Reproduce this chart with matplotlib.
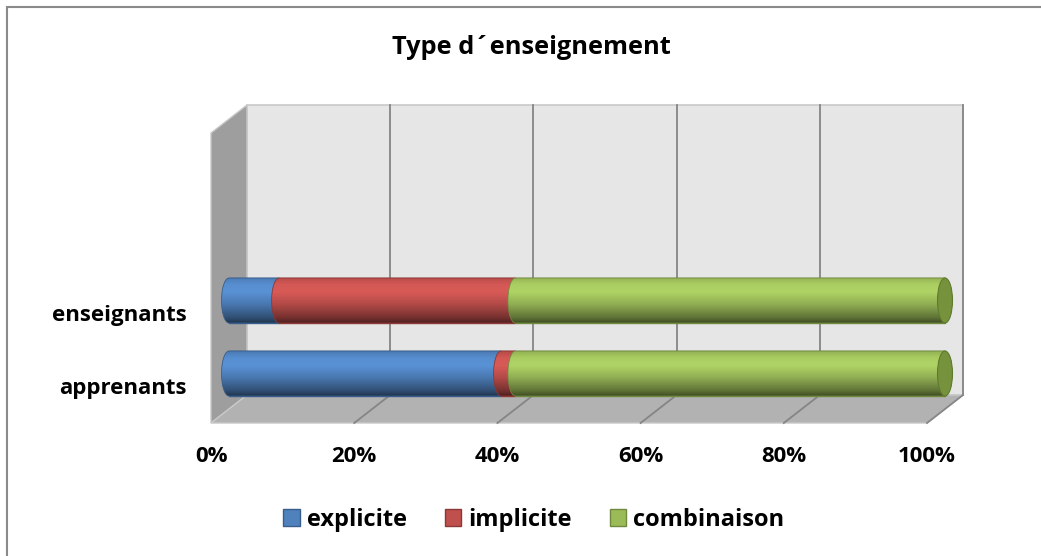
import numpy as np
import matplotlib.pyplot as plt
import matplotlib.transforms as mtransforms
from matplotlib.patches import Polygon, Ellipse, Rectangle
from matplotlib.colors import to_rgb

# data
categories = ['apprenants', 'enseignants']
series = ['explicite', 'implicite', 'combinaison']
explicite = [38, 7]
implicite = [2, 33]
combinaison = [60, 60]
xticks = [0, 20, 40, 60, 80, 100]
xtick_labels = ['0%', '20%', '40%', '60%', '80%', '100%']
title = 'Type d\u00b4enseignement'

colors = ['#4f81bd', '#c0504d', '#9bbb59']
edges = ['#385d8a', '#8c3836', '#71893f']
cap_color = '#76923c'

plt.rcParams['font.family'] = ['Open Sans', 'DejaVu Sans']
plt.rcParams['font.weight'] = 'bold'

W, H = 1041, 556
fig = plt.figure(figsize=(W / 100, H / 100), dpi=100)
ax = fig.add_axes([0, 0, 1, 1])
ax.axis('off')

# pixel -> data mapping for the plane where the bars sit
PPX, X0PX = 7.16, 229.0
PPY, Y0PX = 73.0, 373.5
def dx(q): return (q - X0PX) / PPX
def dy(p): return (Y0PX - p) / PPY
ax.set_xlim(dx(0), dx(W))
ax.set_ylim(dy(H), dy(0))

DX, DY = 18 / PPX, 14 / PPY          # half depth of the 3d box
top_b, bot_b = dy(105), dy(395)      # back wall top / bottom
top_f, bot_f = top_b - 2 * DY, bot_b - 2 * DY

# walls and floor
ax.add_patch(Polygon([(0 + DX, bot_b), (100 + DX, bot_b), (100 + DX, top_b), (0 + DX, top_b)],
                     fc='#e6e6e6', ec='#c8c8c8', lw=1.2, zorder=0))
ax.add_patch(Polygon([(0 - DX, top_f), (0 + DX, top_b), (0 + DX, bot_b), (0 - DX, bot_f)],
                     fc='#9e9e9e', ec='#c8c8c8', lw=1.0, zorder=0))
ax.add_patch(Polygon([(0 - DX, bot_f), (100 - DX, bot_f), (100 + DX, bot_b), (0 + DX, bot_b)],
                     fc='#b2b2b2', ec='#c8c8c8', lw=1.0, zorder=0))
for v in xticks[1:]:
    ax.plot([v + DX, v + DX], [bot_b, top_b], color='#858585', lw=1.3, zorder=1)
for v in xticks[1:]:
    ax.plot([v - DX, v + DX], [bot_f, bot_b], color='#858585', lw=1.3, zorder=1)

# bars
ypos = np.arange(len(categories))
bh = 45 / PPY
ew = 15 / PPX
lefts = np.zeros(len(categories))
conts = []
for k, (name, vals) in enumerate(zip(series, [explicite, implicite, combinaison])):
    c = ax.barh(ypos, vals, left=lefts, height=bh, color=colors[k], edgecolor=edges[k],
                lw=1.0, label=name, zorder=2 + k)
    conts.append(c)
    lefts = lefts + np.array(vals)

# cylinder shading: vertical brightness profile, bottom -> top
tt = np.linspace(0, 1, 60)
fac = np.interp(tt, [0, 0.12, 0.4, 0.68, 0.85, 1.0], [0.42, 0.62, 0.92, 1.13, 1.1, 0.95])
th = np.linspace(1.5 * np.pi, 0.5 * np.pi, 40)
for k, c in enumerate(conts):
    base = np.array(to_rgb(colors[k]))
    img = np.clip(fac[:, None] * base[None, :], 0, 1)[:, None, :]
    for r in c.patches:
        x0, y0, w, h = r.get_x(), r.get_y(), r.get_width(), r.get_height()
        if w <= 0:
            continue
        yc = y0 + h / 2
        arc = [(x0 + ew / 2 * np.cos(a), yc + h / 2 * np.sin(a)) for a in th]
        pts = [(x0, y0 + h), (x0 + w, y0 + h), (x0 + w, y0)] + arc
        clip = Polygon(pts, closed=True, fc='none', ec=edges[k], lw=0.6, zorder=10 + k + 0.5)
        ax.add_patch(clip)
        im = ax.imshow(img, extent=[x0 - ew / 2, x0 + w, y0, y0 + h], origin='lower',
                       aspect='auto', interpolation='bilinear', zorder=10 + k)
        im.set_clip_path(clip)

# end caps
for i in range(len(categories)):
    end = explicite[i] + implicite[i] + combinaison[i]
    ax.add_patch(Ellipse((end, ypos[i]), ew, bh, fc=cap_color, ec='#5f7a2c', lw=0.8, zorder=20))

# tick labels (front plane)
off_x = mtransforms.offset_copy(ax.transData, fig=fig, x=0, y=-34, units='dots')
for v, lab in zip(xticks, xtick_labels):
    ax.text(v - DX, bot_f, lab, transform=off_x, ha='center', va='center', fontsize=16)
off_y = mtransforms.offset_copy(ax.transData, fig=fig, x=-24, y=-1, units='dots')
for i, cat in enumerate(categories):
    ax.text(0 - DX, ypos[i] - DY, cat, transform=off_y, ha='right', va='center', fontsize=16)

fig.text(531 / W, 1 - 48 / H, title, ha='center', va='center', fontsize=18.3)

fig.legend(handles=conts, labels=series, loc='center', bbox_to_anchor=(534 / W, 1 - 520 / H),
           ncol=3, frameon=False, fontsize=17, handlelength=0.7, handleheight=0.7,
           handletextpad=0.3, columnspacing=1.6)

# chart border
fig.patches.append(Rectangle((7 / W, -0.05), 1.1, 1 - 7 / H + 0.05, transform=fig.transFigure,
                             fill=False, ec='#8a8a8a', lw=1.5))

fig.savefig('out.png', dpi=100)
